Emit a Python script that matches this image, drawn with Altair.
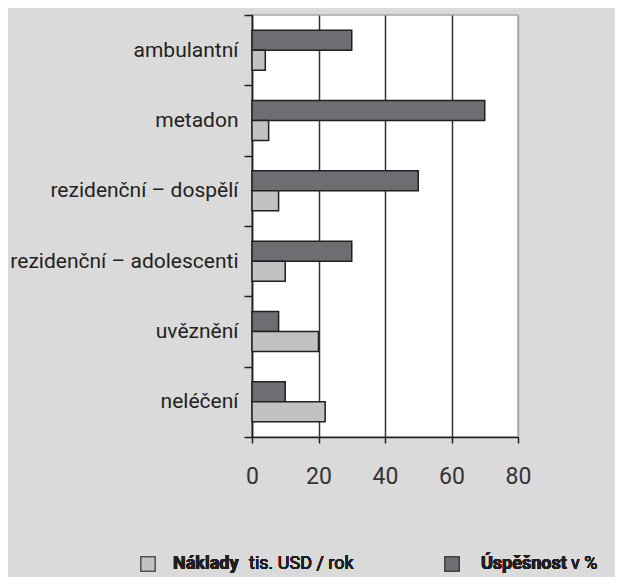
import altair as alt
import pandas as pd

categories = ["ambulantní", "metadon", "rezidenční – dospělí",
              "rezidenční – adolescenti", "uvěznění", "neléčení"]
naklady = [4, 5, 8, 10, 20, 22]
uspesnost = [30, 70, 50, 30, 8, 10]
series = ["Úspěšnost", "Náklady"]
x_ticks = [0, 20, 40, 60, 80]

rows = []
for c, n, u in zip(categories, naklady, uspesnost):
    rows.append({"cat": c, "series": "Úspěšnost", "value": u})
    rows.append({"cat": c, "series": "Náklady", "value": n})
df = pd.DataFrame(rows)

FONT = "Roboto"
TXT = "#231f20"
LINE = "#231f20"

bars = alt.Chart(df).mark_bar(stroke=LINE, strokeWidth=1.5).encode(
    x=alt.X("value:Q",
            scale=alt.Scale(domain=[0, 80], nice=False),
            axis=alt.Axis(values=x_ticks, title=None, grid=True,
                          gridColor=alt.condition("datum.value == 80", alt.value("#a8a8a8"), alt.value("#333333")),
                          gridWidth=1.5, domainColor=LINE, domainWidth=1.5,
                          tickColor=LINE, tickSize=6, tickWidth=1.5,
                          labelFontSize=23, labelFont=FONT, labelColor="#333333",
                          labelFontWeight="normal",
                          labelPadding=22, labelFlush=False)),
    y=alt.Y("cat:N", sort=categories,
            scale=alt.Scale(paddingInner=0, paddingOuter=0),
            axis=alt.Axis(title=None, tickBand="extent", tickSize=8, tickWidth=1.5,
                          tickColor=LINE, domainColor=LINE, domainWidth=1.5,
                          labelFontSize=21, labelFont=FONT, labelColor=TXT,
                          labelPadding=6, labelLimit=0, grid=False)),
    yOffset=alt.YOffset("series:N", sort=series,
                        scale=alt.Scale(paddingInner=0, paddingOuter=0.758)),
    color=alt.Color("series:N",
                    scale=alt.Scale(domain=["Náklady", "Úspěšnost"],
                                    range=["#c1c2c4", "#6d6e71"]),
                    legend=None),
)

LEG_Y = 549
leg_sq1 = alt.Chart(df).mark_rect(fill="#c1c2c4", stroke="#555555", strokeWidth=1.2).encode(
    x=alt.value(-111), x2=alt.value(-97), y=alt.value(LEG_Y - 7), y2=alt.value(LEG_Y + 7))
leg_sq2 = alt.Chart(df).mark_rect(fill="#6d6e71", stroke="#444444", strokeWidth=1.2).encode(
    x=alt.value(193), x2=alt.value(207), y=alt.value(LEG_Y - 7), y2=alt.value(LEG_Y + 7))

def txt(x, s, bold):
    return alt.Chart(df).mark_text(align="left", baseline="middle", fontSize=18,
                                   font=FONT, color=TXT,
                                   fontWeight="bold" if bold else "normal").encode(
        x=alt.value(x), y=alt.value(LEG_Y), text=alt.value(s))

chart = alt.layer(
    bars, leg_sq1, leg_sq2,
    txt(-79, "Náklady", True), txt(-3, "tis. USD / rok", False),
    txt(229, "Úspěšnost", True), txt(319, "v %", False),
).properties(
    width=266, height=422,
    background="#dadada",
    autosize=alt.AutoSizeParams(type="none"),
    padding={"left": 244, "top": 7, "right": 97, "bottom": 140},
).configure_view(fill="white", stroke="#a8a8a8", strokeWidth=1.5)

chart.save("out.html", embed_options={"renderer": "svg", "actions": False})
